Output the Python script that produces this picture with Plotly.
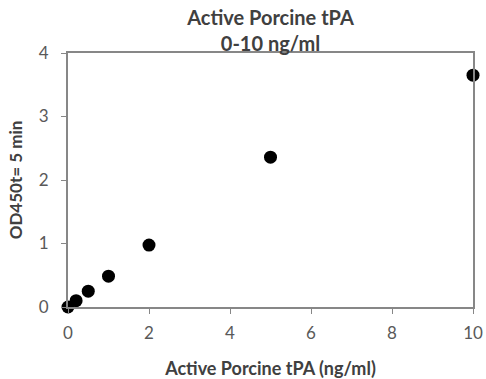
import plotly.graph_objects as go

conc = [0, 0.2, 0.5, 1, 2, 5, 10]
od450 = [0.0, 0.1, 0.25, 0.485, 0.975, 2.36, 3.65]
x_ticks = [0, 2, 4, 6, 8, 10]
y_ticks = [0, 1, 2, 3, 4]

FONT = "Lato, 'Open Sans', sans-serif"
GRAY = "#878787"

fig = go.Figure(go.Scatter(
    x=conc, y=od450, mode="markers",
    marker=dict(color="black", size=13),
    cliponaxis=False,
))

fig.update_layout(
    width=486, height=379,
    margin=dict(l=68, r=13, t=53, b=72),
    paper_bgcolor="white", plot_bgcolor="white",
    showlegend=False,
    font=dict(family=FONT, color="#404040"),
    title=dict(
        text="<b>Active Porcine tPA</b><br><b>0-10 ng/ml</b>",
        x=0.5, xanchor="center", xref="paper",
        y=1 - 25 / 379, yanchor="middle", yref="container",
        font=dict(family=FONT, size=20, color="#404040"),
    ),
)
fig.update_xaxes(
    range=[0, 10], tickvals=x_ticks, ticks="outside", ticklen=5,
    tickcolor=GRAY, showline=True, linecolor=GRAY, linewidth=2, mirror=True,
    showgrid=False, zeroline=False, automargin=False, ticklabelstandoff=5,
    tickfont=dict(size=17, color="#595959", family=FONT),
    title=dict(text="<b>Active Porcine tPA (ng/ml)</b>", standoff=22,
               font=dict(size=18, color="#404040", family=FONT)),
)
fig.update_yaxes(
    range=[0, 4], tickvals=y_ticks, ticks="outside", ticklen=5,
    tickcolor=GRAY, showline=True, linecolor=GRAY, linewidth=2, mirror=True,
    showgrid=False, zeroline=False, automargin=False, ticklabelstandoff=9,
    tickfont=dict(size=17, color="#595959", family=FONT),
    title=dict(text="<b>OD450t= 5 min</b>", standoff=12,
               font=dict(size=17, color="#404040", family=FONT)),
)

fig.write_html(
    "out.html",
    config={"displayModeBar": False},
    post_script="document.body.style.margin='0';document.body.style.padding='0';",
)
